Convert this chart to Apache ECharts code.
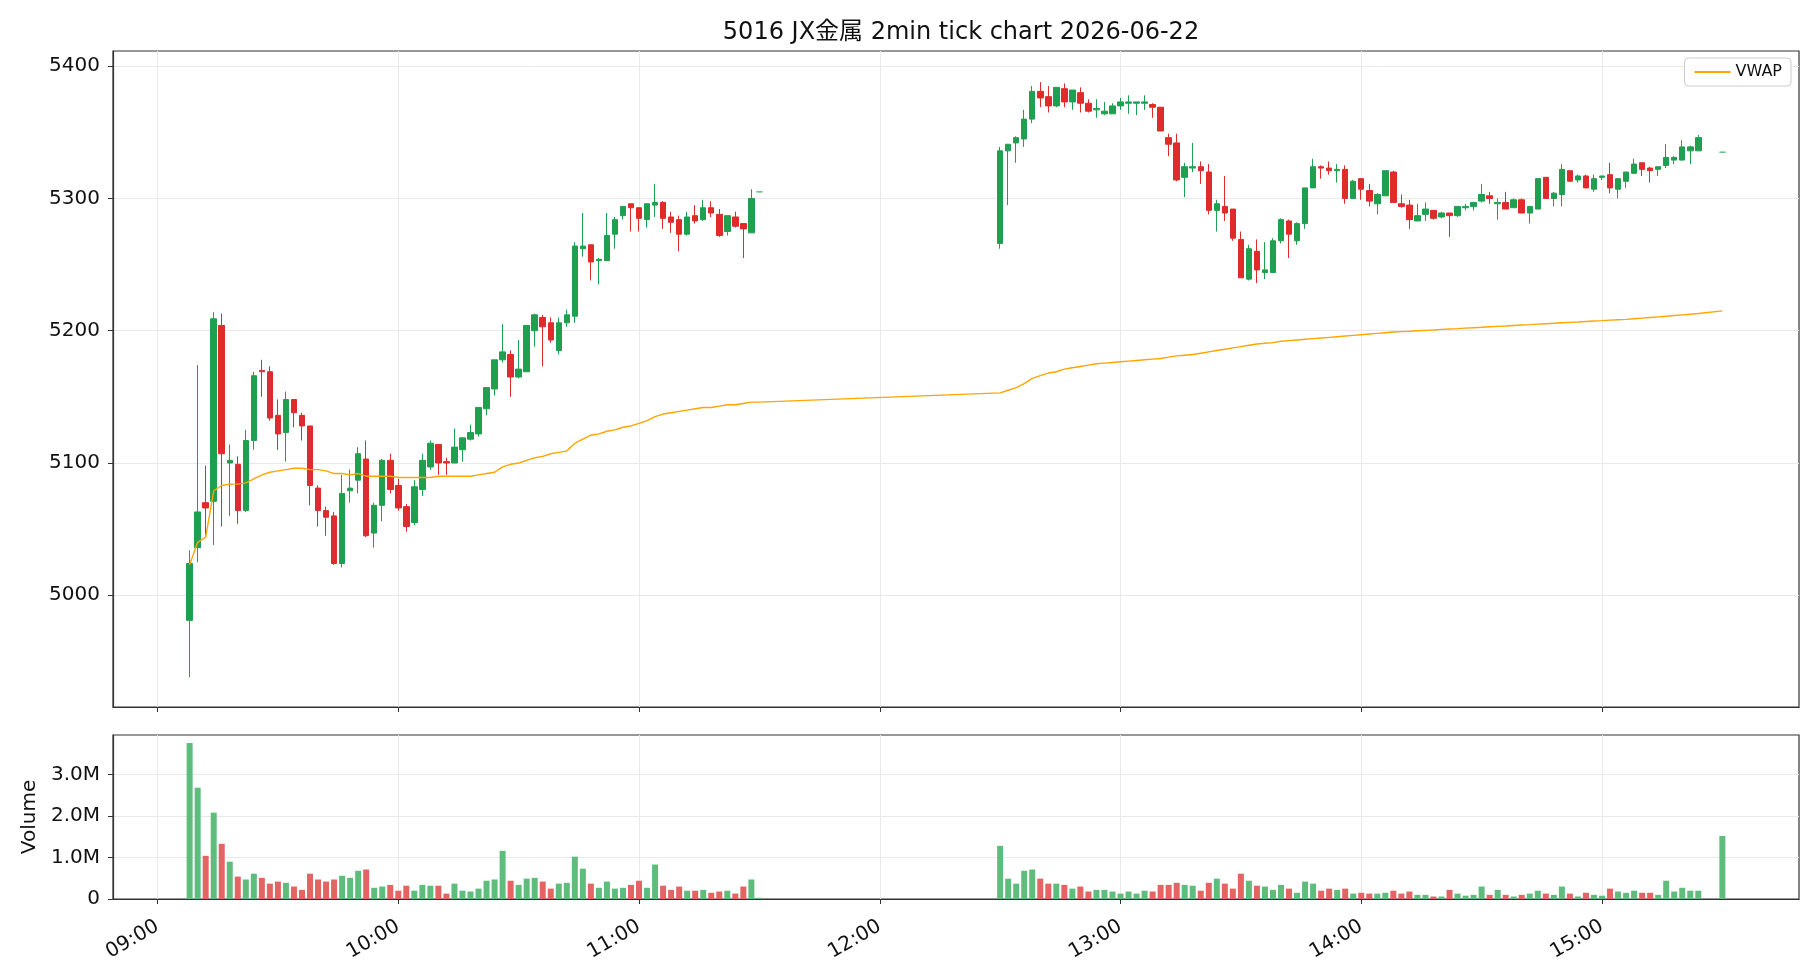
<!DOCTYPE html>
<html>
<head>
<meta charset="utf-8">
<title>5016 JX金属 2min tick chart</title>
<script src="https://cdn.jsdelivr.net/npm/echarts@6/dist/echarts.min.js"></script>
<style>
  html, body { margin: 0; padding: 0; background: #fff; }
  #chart { width: 1820px; height: 980px; }
</style>
</head>
<body>
<div id="chart"></div>
<script>
// 2分足 (前場 9:08-11:28 + 11:30 引け, 後場 12:30-15:24 + 15:30 引け)
const times = [
  '09:08','09:10','09:12','09:14','09:16','09:18','09:20','09:22','09:24','09:26',
  '09:28','09:30','09:32','09:34','09:36','09:38','09:40','09:42','09:44','09:46',
  '09:48','09:50','09:52','09:54','09:56','09:58','10:00','10:02','10:04','10:06',
  '10:08','10:10','10:12','10:14','10:16','10:18','10:20','10:22','10:24','10:26',
  '10:28','10:30','10:32','10:34','10:36','10:38','10:40','10:42','10:44','10:46',
  '10:48','10:50','10:52','10:54','10:56','10:58','11:00','11:02','11:04','11:06',
  '11:08','11:10','11:12','11:14','11:16','11:18','11:20','11:22','11:24','11:26',
  '11:28','11:30',
  '12:30','12:32','12:34','12:36','12:38','12:40','12:42','12:44','12:46','12:48',
  '12:50','12:52','12:54','12:56','12:58','13:00','13:02','13:04','13:06','13:08',
  '13:10','13:12','13:14','13:16','13:18','13:20','13:22','13:24','13:26','13:28',
  '13:30','13:32','13:34','13:36','13:38','13:40','13:42','13:44','13:46','13:48',
  '13:50','13:52','13:54','13:56','13:58','14:00','14:02','14:04','14:06','14:08',
  '14:10','14:12','14:14','14:16','14:18','14:20','14:22','14:24','14:26','14:28',
  '14:30','14:32','14:34','14:36','14:38','14:40','14:42','14:44','14:46','14:48',
  '14:50','14:52','14:54','14:56','14:58','15:00','15:02','15:04','15:06','15:08',
  '15:10','15:12','15:14','15:16','15:18','15:20','15:22','15:24','15:30'
];
const openPx = [
  4981,5036,5070,5071,5204,5100,5099,5064,5117,5170,5169,5136,5123,5148,5136,5128,5081,5064,5060,5024,
  5079,5087,5103,5047,5068,5102,5083,5067,5055,5080,5097,5114,5101,5100,5110,5118,5122,5141,5156,5178,
  5182,5165,5169,5200,5210,5206,5185,5206,5211,5262,5265,5253,5253,5273,5287,5296,5293,5284,5295,5297,
  5286,5284,5273,5287,5284,5293,5288,5275,5286,5281,5274,5305,
  5266,5336,5342,5345,5360,5381,5377,5370,5383,5373,5380,5372,5367,5364,5364,5370,5372,5372,5372,5371,
  5369,5346,5342,5316,5323,5324,5320,5291,5294,5292,5269,5239,5260,5244,5244,5268,5283,5268,5281,5308,
  5324,5323,5321,5322,5300,5315,5306,5296,5302,5320,5296,5295,5283,5288,5291,5286,5289,5287,5293,5294,
  5298,5302,5296,5297,5293,5299,5289,5292,5316,5300,5303,5321,5314,5317,5307,5316,5318,5307,5313,5319,
  5327,5323,5322,5325,5329,5329,5336,5336,5335
];
const highPx = [
  5034,5174,5098,5214,5213,5114,5105,5125,5169,5178,5173,5148,5154,5148,5138,5128,5083,5067,5063,5091,
  5095,5112,5117,5070,5103,5107,5088,5069,5087,5107,5117,5114,5104,5126,5119,5129,5142,5157,5178,5205,
  5185,5193,5204,5213,5212,5210,5210,5216,5267,5289,5265,5255,5289,5286,5294,5296,5293,5296,5311,5298,
  5290,5287,5290,5295,5299,5298,5292,5287,5290,5281,5307,5305,
  5339,5341,5347,5367,5385,5388,5385,5384,5387,5382,5384,5375,5375,5373,5372,5376,5378,5373,5378,5372,
  5369,5349,5349,5327,5342,5328,5326,5299,5317,5292,5275,5265,5269,5267,5270,5285,5284,5282,5308,5330,
  5325,5328,5326,5325,5314,5315,5311,5304,5321,5321,5303,5299,5296,5297,5291,5290,5289,5294,5296,5297,
  5311,5305,5300,5305,5300,5300,5294,5315,5316,5305,5326,5321,5318,5318,5318,5317,5327,5315,5320,5330,
  5327,5324,5324,5341,5332,5344,5340,5348,5335
];
const lowPx = [
  4938,5025,5045,5038,5052,5060,5054,5063,5110,5150,5132,5110,5101,5127,5117,5068,5052,5045,5023,5021,
  5070,5077,5044,5036,5056,5077,5064,5048,5053,5075,5095,5091,5091,5100,5101,5117,5120,5136,5151,5176,
  5150,5164,5169,5188,5173,5191,5182,5203,5206,5256,5238,5235,5253,5262,5284,5275,5275,5278,5286,5277,
  5274,5260,5272,5281,5283,5286,5271,5272,5278,5255,5274,5305,
  5262,5295,5327,5339,5357,5369,5365,5369,5369,5367,5365,5365,5361,5363,5364,5367,5364,5363,5367,5361,
  5351,5332,5313,5301,5320,5311,5288,5275,5283,5268,5240,5238,5236,5239,5244,5266,5255,5265,5277,5308,
  5315,5318,5312,5296,5300,5299,5294,5288,5302,5297,5293,5277,5283,5283,5284,5285,5271,5286,5291,5291,
  5297,5296,5284,5292,5293,5289,5281,5292,5300,5294,5294,5313,5312,5308,5305,5314,5304,5300,5308,5319,
  5317,5312,5317,5323,5326,5329,5326,5336,5335
];
const closePx = [
  5024,5063,5066,5209,5107,5102,5064,5117,5166,5169,5134,5122,5148,5138,5128,5083,5064,5059,5024,5077,
  5081,5107,5045,5068,5102,5080,5066,5052,5082,5102,5115,5100,5100,5112,5119,5123,5142,5157,5178,5184,
  5165,5171,5204,5212,5203,5193,5206,5212,5264,5264,5252,5254,5272,5284,5294,5293,5285,5296,5297,5285,
  5282,5273,5286,5283,5293,5289,5272,5287,5279,5277,5300,5305,
  5336,5341,5346,5360,5381,5376,5370,5384,5373,5382,5372,5366,5368,5366,5370,5373,5373,5373,5373,5369,
  5351,5341,5314,5324,5324,5321,5291,5296,5289,5270,5240,5262,5246,5246,5268,5284,5273,5281,5308,5324,
  5323,5321,5322,5300,5313,5307,5298,5303,5321,5297,5294,5284,5287,5292,5285,5289,5287,5294,5294,5297,
  5303,5300,5297,5292,5299,5289,5294,5315,5300,5304,5322,5313,5317,5308,5315,5317,5308,5315,5320,5326,
  5322,5321,5324,5331,5331,5339,5339,5346,5335
];
// 出来高 (百万株)
const volumeM = [
  3.76,2.68,1.04,2.08,1.33,0.90,0.54,0.47,0.61,0.51,0.37,0.42,0.39,0.30,0.22,0.61,0.47,0.42,0.47,0.56,
  0.51,0.68,0.71,0.27,0.30,0.34,0.20,0.32,0.20,0.34,0.32,0.32,0.13,0.37,0.20,0.18,0.25,0.44,0.47,1.16,
  0.44,0.34,0.49,0.51,0.42,0.25,0.37,0.39,1.02,0.73,0.37,0.27,0.42,0.25,0.27,0.34,0.44,0.27,0.83,0.32,
  0.22,0.30,0.20,0.20,0.22,0.15,0.18,0.20,0.13,0.30,0.47,0.03,
  1.28,0.49,0.37,0.68,0.71,0.49,0.37,0.37,0.34,0.25,0.30,0.18,0.22,0.22,0.18,0.13,0.18,0.13,0.20,0.18,
  0.34,0.34,0.39,0.34,0.32,0.20,0.39,0.49,0.37,0.25,0.61,0.44,0.32,0.30,0.22,0.34,0.25,0.15,0.42,0.37,
  0.20,0.25,0.22,0.25,0.13,0.15,0.13,0.13,0.15,0.20,0.13,0.18,0.10,0.10,0.06,0.06,0.22,0.13,0.08,0.10,
  0.30,0.10,0.22,0.10,0.06,0.10,0.13,0.20,0.13,0.10,0.30,0.13,0.06,0.15,0.10,0.08,0.25,0.18,0.15,0.20,
  0.15,0.15,0.10,0.44,0.18,0.27,0.20,0.20,1.52
];
const vwap = [
  5023,5040,5044,5079,5083,5084,5084,5085,5088,5091,5093,5094,5095,5096,5096,5095,5095,5094,5092,5092,
  5091,5092,5090,5090,5090,5090,5089,5089,5089,5089,5089,5090,5090,5090,5090,5090,5091,5092,5093,5097,
  5099,5100,5102,5104,5105,5107,5108,5109,5115,5118,5121,5122,5124,5125,5127,5128,5130,5132,5135,5137,
  5138,5139,5140,5141,5142,5142,5143,5144,5144,5145,5146,5146,
  5153,5155,5157,5160,5164,5166,5168,5169,5171,5172,5173,5174,5175,5175.5,5176,5176.5,5177,5177.5,5178,5178.5,
  5179,5180,5181,5181.5,5182,5183,5184,5185,5186,5187,5188,5189,5190,5190.5,5191,5192,5192.5,5193,5193.5,5194,
  5194.5,5195,5195.5,5196,5196.5,5197,5197.5,5198,5198.5,5199,5199.3,5199.6,5200,5200.3,5200.6,5201,5201.3,5201.6,5202,5202.3,
  5202.6,5203,5203.3,5203.6,5204,5204.3,5204.6,5205,5205.3,5205.6,5206,5206.3,5206.6,5207,5207.3,5207.6,5208,5208.3,5208.6,5209,
  5209.5,5210,5210.5,5211,5211.5,5212,5212.5,5213,5215
];
const hourTicks = ['09:00','10:00','11:00','12:00','13:00','14:00','15:00'];
const priceTicks = [5000, 5100, 5200, 5300, 5400];
const volumeTicks = [0, 1, 2, 3];

const UP = '#1f9f50';
const DOWN = '#df2b2b';
const UP_VOL = '#5ebd7d';
const DOWN_VOL = '#e46464';
const FONT = "'DejaVu Sans', 'Noto Sans CJK JP', sans-serif";

// minutes since midnight, used as the x value
function toMin(hm) {
  const p = hm.split(':').map(Number);
  return p[0] * 60 + p[1];
}
function fmtMin(v) {
  const h = Math.floor(v / 60), m = Math.round(v - h * 60);
  return String(h).padStart(2, '0') + ':' + String(m).padStart(2, '0');
}

const xMin = toMin('08:48') + 0.9;
const xMax = toMin('15:49') + 0.1;
const hourVals = hourTicks.map(toMin);

const candleData = times.map((t, i) => {
  const up = closePx[i] >= openPx[i];
  const flat = highPx[i] === lowPx[i];   // 板寄せの一本値
  const c = flat ? UP_VOL : (up ? UP : DOWN);
  return {
    value: [toMin(t), openPx[i], closePx[i], lowPx[i], highPx[i]],
    itemStyle: { color: c, color0: c, borderColor: c, borderColor0: c }
  };
});
const volData = times.map((t, i) => ({
  value: [toMin(t), volumeM[i]],
  itemStyle: { color: closePx[i] >= openPx[i] ? UP_VOL : DOWN_VOL }
}));
const vwapData = times.map((t, i) => [toMin(t), vwap[i]]);

const chart = echarts.init(document.getElementById('chart'));

const gridLine = { show: true, lineStyle: { color: '#e9e9e9', width: 1 } };
const frame = { show: true, onZero: false, lineStyle: { color: '#333', width: 1.2 } };
const labelText = { fontSize: 20, color: '#111', fontFamily: FONT };

chart.setOption({
  animation: false,
  backgroundColor: '#fff',
  textStyle: { fontFamily: FONT },
  title: {
    text: '5016 JX金属 2min tick chart 2026-06-22',
    left: 956,
    textAlign: 'center',
    top: 16,
    textStyle: { fontFamily: FONT, fontSize: 24, fontWeight: 'normal', color: '#111' }
  },
  legend: {
    data: ['VWAP'],
    right: 29,
    top: 58,
    itemWidth: 36,
    itemHeight: 2,
    itemGap: 8,
    padding: [6, 9, 6, 9],
    borderColor: '#cccccc',
    borderWidth: 1,
    borderRadius: 4,
    backgroundColor: '#fff',
    textStyle: { fontFamily: FONT, fontSize: 16, color: '#111' }
  },
  grid: [
    { left: 113, right: 21, top: 51, height: 656, show: true, borderColor: '#333', borderWidth: 1.2 },
    { left: 113, right: 21, top: 735, height: 164, show: true, borderColor: '#333', borderWidth: 1.2 }
  ],
  xAxis: [
    {
      type: 'value', gridIndex: 0, min: xMin, max: xMax,
      axisLine: frame,
      axisTick: { show: true, length: 5, customValues: hourVals, lineStyle: { color: '#333' } },
      axisLabel: { show: false, customValues: hourVals },
      splitLine: gridLine
    },
    {
      type: 'value', gridIndex: 1, min: xMin, max: xMax,
      axisLine: frame,
      axisTick: { show: true, length: 5, customValues: hourVals, lineStyle: { color: '#333' } },
      axisLabel: Object.assign({
        customValues: hourVals,
        rotate: 30,
        margin: 26,
        formatter: v => fmtMin(v)
      }, labelText),
      splitLine: gridLine
    }
  ],
  yAxis: [
    {
      type: 'value', gridIndex: 0, min: 4915.5, max: 5411.5,
      axisLine: frame,
      axisTick: { show: true, length: 5, customValues: priceTicks, lineStyle: { color: '#333' } },
      axisLabel: Object.assign({
        customValues: priceTicks, margin: 13,
        formatter: v => String(v)
      }, labelText),
      splitLine: gridLine
    },
    {
      type: 'value', gridIndex: 1, min: 0, max: 3.95,
      name: 'Volume',
      nameLocation: 'middle',
      nameGap: 72,
      nameTextStyle: labelText,
      axisLine: frame,
      axisTick: { show: true, length: 5, customValues: volumeTicks, lineStyle: { color: '#333' } },
      axisLabel: Object.assign({
        customValues: volumeTicks, margin: 13,
        formatter: v => (v === 0 ? '0' : v.toFixed(1) + 'M')
      }, labelText),
      splitLine: gridLine
    }
  ],
  series: [
    {
      name: 'price',
      type: 'candlestick',
      xAxisIndex: 0,
      yAxisIndex: 0,
      barWidth: 6,
      encode: { x: 0, y: [1, 2, 3, 4] },
      itemStyle: { borderWidth: 1 },
      data: candleData,
      z: 3
    },
    {
      name: 'VWAP',
      type: 'line',
      xAxisIndex: 0,
      yAxisIndex: 0,
      symbol: 'none',
      lineStyle: { color: '#ffa500', width: 1.4 },
      itemStyle: { color: '#ffa500' },
      data: vwapData,
      z: 4
    },
    {
      name: 'volume',
      type: 'bar',
      xAxisIndex: 1,
      yAxisIndex: 1,
      barWidth: 6,
      data: volData
    }
  ]
});
</script>
</body>
</html>
